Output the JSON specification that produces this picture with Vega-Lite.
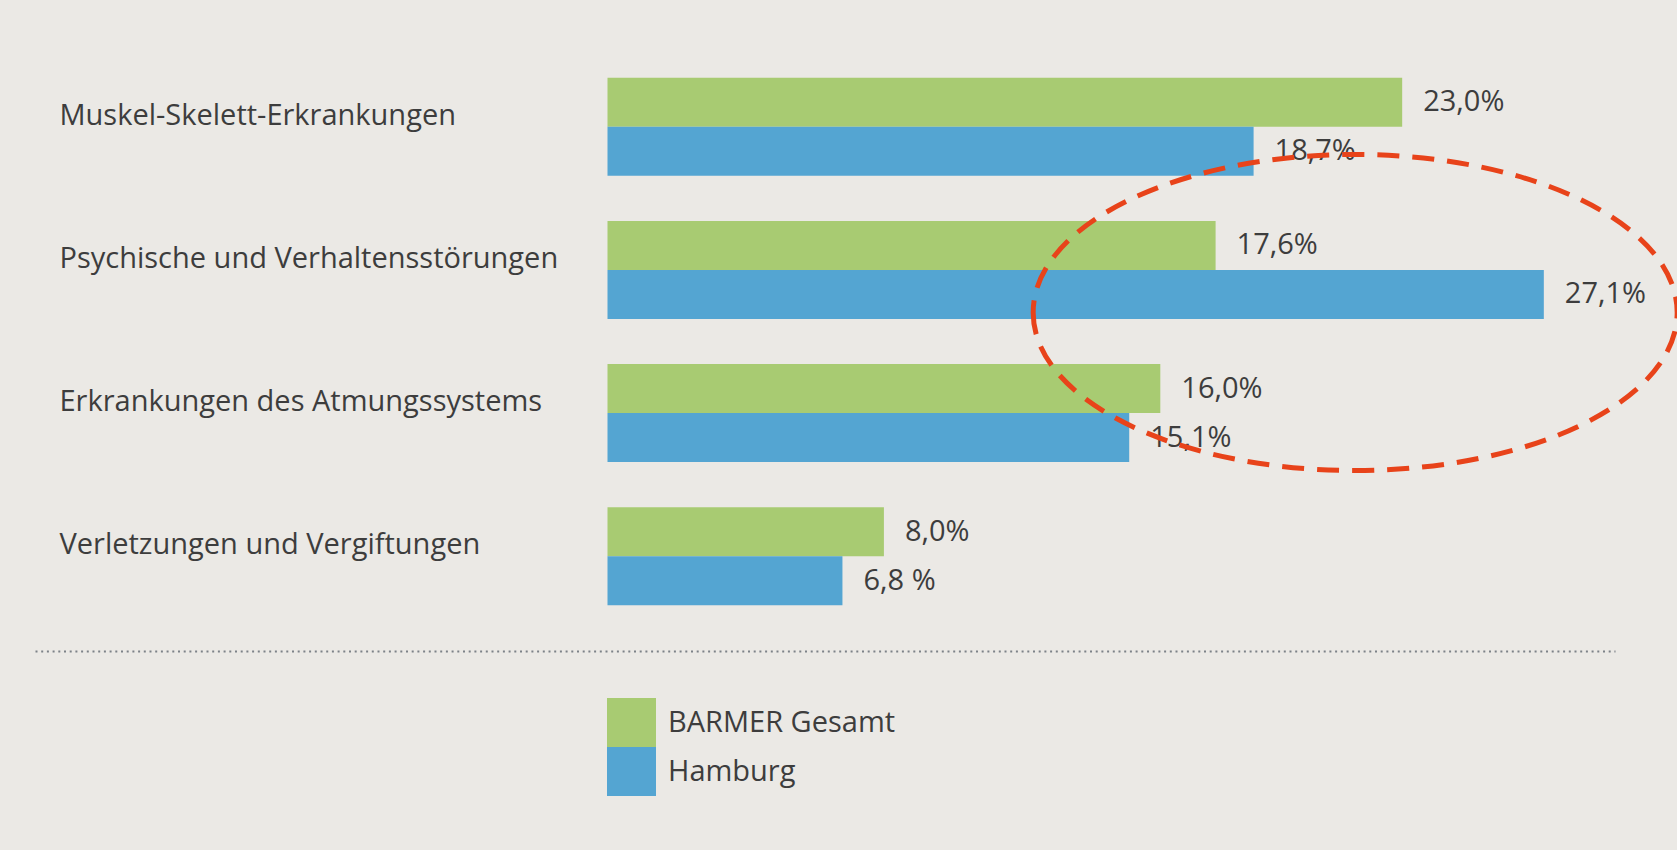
{
  "$schema": "https://vega.github.io/schema/vega-lite/v6.json",
  "autosize": {"type": "none"},
  "width": 1580,
  "height": 619,
  "padding": {"left": 35, "top": 32, "right": 62, "bottom": 199},
  "background": "#EBE9E5",
  "config": {"view": {"stroke": null}, "font": "Open Sans"},
  "data": {
    "values": [
      {"kategorie": "Muskel-Skelett-Erkrankungen", "reihe": "BARMER Gesamt", "anteil": 23.0, "label": "23,0%"},
      {"kategorie": "Muskel-Skelett-Erkrankungen", "reihe": "Hamburg", "anteil": 18.7, "label": "18,7%"},
      {"kategorie": "Psychische und Verhaltensstörungen", "reihe": "BARMER Gesamt", "anteil": 17.6, "label": "17,6%"},
      {"kategorie": "Psychische und Verhaltensstörungen", "reihe": "Hamburg", "anteil": 27.1, "label": "27,1%"},
      {"kategorie": "Erkrankungen des Atmungssystems", "reihe": "BARMER Gesamt", "anteil": 16.0, "label": "16,0%"},
      {"kategorie": "Erkrankungen des Atmungssystems", "reihe": "Hamburg", "anteil": 15.1, "label": "15,1%"},
      {"kategorie": "Verletzungen und Vergiftungen", "reihe": "BARMER Gesamt", "anteil": 8.0, "label": "8,0%"},
      {"kategorie": "Verletzungen und Vergiftungen", "reihe": "Hamburg", "anteil": 6.8, "label": "6,8 %"}
    ]
  },
  "encoding": {
    "y": {
      "field": "kategorie",
      "type": "nominal",
      "sort": null,
      "scale": {"paddingInner": 0.315, "paddingOuter": 0.32},
      "axis": {
        "title": null,
        "orient": "left",
        "domain": false,
        "ticks": false,
        "tickSize": 0,
        "labelAlign": "left",
        "labelPadding": -24,
        "labelOffset": -11,
        "labelBaseline": "middle",
        "labelFontSize": 29,
        "labelFont": "Open Sans",
        "labelColor": "#3d3d3d",
        "labelLimit": 700
      }
    },
    "yOffset": {"field": "reihe", "type": "nominal", "sort": ["BARMER Gesamt", "Hamburg"], "scale": {"paddingInner": 0}},
    "x": {
      "field": "anteil",
      "type": "quantitative",
      "scale": {"domain": [-16.57, 29.16], "nice": false},
      "axis": {
        "title": null,
        "labels": false,
        "ticks": false,
        "grid": false,
        "domain": true,
        "domainDash": [2, 3.7],
        "domainColor": "#7d8288",
        "domainWidth": 2
      }
    }
  },
  "layer": [
    {
      "mark": {"type": "bar"},
      "encoding": {
        "color": {
          "field": "reihe",
          "type": "nominal",
          "sort": ["BARMER Gesamt", "Hamburg"],
          "scale": {"domain": ["BARMER Gesamt", "Hamburg"], "range": ["#A8CB72", "#54A5D2"]},
          "legend": {
            "orient": "none",
            "legendX": 572,
            "legendY": 666,
            "title": null,
            "direction": "vertical",
            "symbolType": "square",
            "symbolSize": 2401,
            "symbolStrokeWidth": 0,
            "symbolOpacity": 1,
            "rowPadding": 0,
            "padding": 0,
            "labelOffset": 12,
            "labelLimit": 500,
            "labelFontSize": 29,
            "labelFont": "Open Sans",
            "labelColor": "#3d3d3d"
          }
        }
      }
    },
    {
      "mark": {"type": "text", "align": "left", "baseline": "middle", "dx": 21, "fontSize": 29, "font": "Open Sans", "color": "#3d3d3d"},
      "encoding": {"text": {"field": "label"}}
    },
    {
      "data": {"values": [{"kategorie": "Psychische und Verhaltensstörungen", "reihe": "Hamburg", "mitte": 21.64}]},
      "mark": {
        "type": "point",
        "shape": "M -1 0.056 A 1 0.4907 0 1 0 1 0.056 A 1 0.4907 0 1 0 -1 0.056 Z",
        "size": 414736,
        "filled": false,
        "stroke": "#E8431A",
        "strokeWidth": 5,
        "strokeDash": [22, 13],
        "opacity": 1
      },
      "encoding": {
        "x": {"field": "mitte", "type": "quantitative"},
        "color": null
      }
    }
  ]
}
